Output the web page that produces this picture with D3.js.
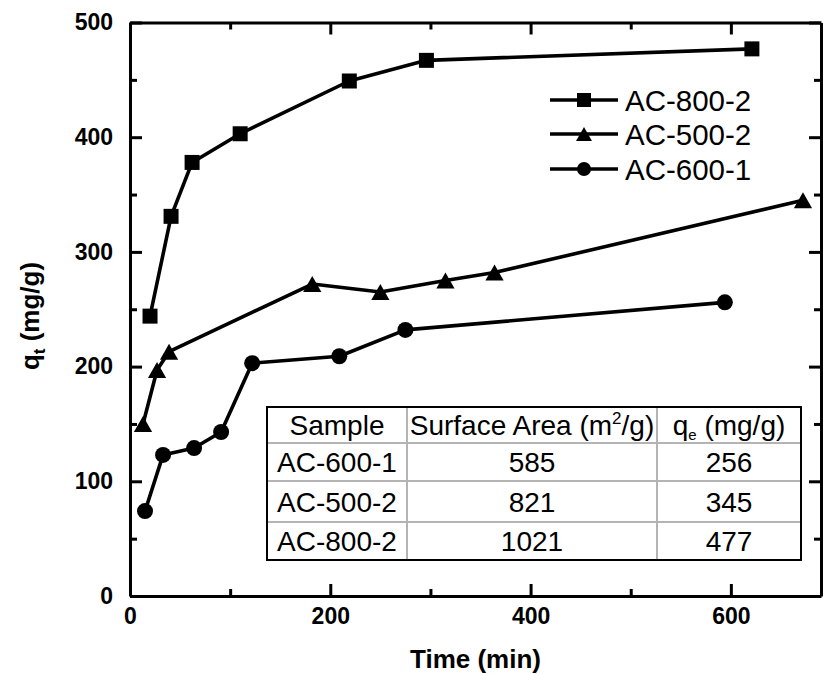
<!DOCTYPE html>
<html>
<head>
<meta charset="utf-8">
<script src="https://cdn.jsdelivr.net/npm/d3@7"></script>
<style>
  html, body { margin: 0; padding: 0; background: #fff; }
  svg { display: block; font-family: "Liberation Sans", Arial, sans-serif; }
</style>
</head>
<body>
<svg id="chart" width="823" height="675"></svg>
<script>
// Adsorption kinetics: uptake q_t versus contact time for three activated carbons
const seriesNames = ["AC-800-2", "AC-500-2", "AC-600-1"];
const seriesShapes = ["square", "triangle", "circle"];

const timeAC800 = [20, 41, 62, 110, 219, 296, 621];
const qtAC800   = [244, 331, 378, 403, 449, 467, 477];

const timeAC500 = [13, 27, 39, 182, 250, 315, 364, 672];
const qtAC500   = [150, 197, 213, 272, 265, 275, 282, 345];

const timeAC600 = [15, 33, 64, 91, 122, 209, 275, 594];
const qtAC600   = [74, 123, 129, 143, 203, 209, 232, 256];

// Summary table
const tableSamples = ["AC-600-1", "AC-500-2", "AC-800-2"];
const tableSurface = [585, 821, 1021];
const tableQe      = [256, 345, 477];

// Axis ticks
const xMajorTicks = [0, 200, 400, 600];
const xMinorTicks = [100, 300, 500];
const yMajorTicks = [0, 100, 200, 300, 400, 500];
const yMinorTicks = [50, 150, 250, 350, 450];

const svg = d3.select("#chart");
const plotLeft = 130, plotRight = 821, plotTop = 22.5, plotBottom = 596;

const x = d3.scaleLinear().domain([0, 690]).range([plotLeft, plotRight]);
const y = d3.scaleLinear().domain([0, 500]).range([plotBottom, plotTop]);

const AXIS_W = 3;
const MAJOR = 12, MINOR = 7;

function styleAxis(g) {
  g.selectAll("path.domain").attr("stroke", "#000").attr("stroke-width", AXIS_W);
  g.selectAll(".tick line").attr("stroke", "#000").attr("stroke-width", AXIS_W);
}

// Minor ticks (no labels)
function minorAxis(axisFn, scale, ticks, tr) {
  const g = svg.append("g").attr("transform", tr)
    .call(axisFn(scale).tickValues(ticks).tickSizeInner(-MINOR).tickSizeOuter(0).tickFormat(""));
  g.select("path.domain").remove();
  g.selectAll(".tick line").attr("stroke", "#000").attr("stroke-width", AXIS_W);
}
minorAxis(d3.axisBottom, x, xMinorTicks, `translate(0,${plotBottom})`);
minorAxis(d3.axisTop, x, xMinorTicks, `translate(0,${plotTop})`);
minorAxis(d3.axisLeft, y, yMinorTicks, `translate(${plotLeft},0)`);
minorAxis(d3.axisRight, y, yMinorTicks, `translate(${plotRight},0)`);

// Major axes forming the frame
const tickFont = g => g.selectAll(".tick text")
  .attr("fill", "#000").style("font-size", "23px").style("font-weight", "bold")
  .style("font-family", "'Liberation Sans', Arial, sans-serif");

const gx = svg.append("g").attr("transform", `translate(0,${plotBottom})`)
  .call(d3.axisBottom(x).tickValues(xMajorTicks).tickSizeInner(-MAJOR).tickSizeOuter(0))
  .call(styleAxis).call(tickFont);
gx.selectAll(".tick text").attr("y", 12).attr("dy", "0.71em");

const gy = svg.append("g").attr("transform", `translate(${plotLeft},0)`)
  .call(d3.axisLeft(y).tickValues(yMajorTicks).tickSizeInner(-MAJOR).tickSizeOuter(0))
  .call(styleAxis).call(tickFont);
gy.selectAll(".tick text").attr("x", -17);

svg.append("g").attr("transform", `translate(0,${plotTop})`)
  .call(d3.axisTop(x).tickValues(xMajorTicks).tickSizeInner(-MAJOR).tickSizeOuter(0).tickFormat(""))
  .call(styleAxis);
svg.append("g").attr("transform", `translate(${plotRight},0)`)
  .call(d3.axisRight(y).tickValues(yMajorTicks).tickSizeInner(-MAJOR).tickSizeOuter(0).tickFormat(""))
  .call(styleAxis);

// Axis titles
svg.append("text")
  .attr("x", (plotLeft + plotRight) / 2).attr("y", 668)
  .attr("text-anchor", "middle")
  .style("font-size", "26px").style("font-weight", "bold")
  .text("Time (min)");

const yTitle = svg.append("text")
  .attr("transform", "translate(39,316) rotate(-90)")
  .attr("text-anchor", "middle")
  .style("font-size", "26px").style("font-weight", "bold");
yTitle.append("tspan").text("q");
yTitle.append("tspan").attr("dy", 6).style("font-size", "17px").text("t");
yTitle.append("tspan").attr("dy", -6).text(" (mg/g)");

// Marker shapes
function markerPath(shape, s) {
  if (shape === "square") {
    const h = s / 2;
    return `M${-h},${-h}H${h}V${h}H${-h}Z`;
  }
  if (shape === "triangle") {
    const w = s * 0.57, hh = s * 0.5;
    return `M0,${-hh}L${w},${hh}L${-w},${hh}Z`;
  }
  const r = s / 2;
  return `M${r},0A${r},${r} 0 1,1 ${-r},0A${r},${r} 0 1,1 ${r},0Z`;
}

const series = [
  { name: seriesNames[0], shape: seriesShapes[0], t: timeAC800, q: qtAC800, size: 15 },
  { name: seriesNames[1], shape: seriesShapes[1], t: timeAC500, q: qtAC500, size: 16 },
  { name: seriesNames[2], shape: seriesShapes[2], t: timeAC600, q: qtAC600, size: 16 }
];

const line = d3.line().x(d => x(d[0])).y(d => y(d[1]));

series.forEach(s => {
  const pts = s.t.map((t, i) => [t, s.q[i]]);
  svg.append("path")
    .datum(pts)
    .attr("fill", "none").attr("stroke", "#000").attr("stroke-width", 3.6)
    .attr("stroke-linejoin", "round")
    .attr("d", line);
  svg.append("g").selectAll("path")
    .data(pts).join("path")
    .attr("transform", d => `translate(${x(d[0])},${y(d[1])})`)
    .attr("d", markerPath(s.shape, s.size))
    .attr("fill", "#000");
});

// Legend
const legendRows = [100, 134, 169];
const lg = svg.append("g");
series.forEach((s, i) => {
  const yy = legendRows[i];
  lg.append("line").attr("x1", 550).attr("x2", 618).attr("y1", yy).attr("y2", yy)
    .attr("stroke", "#000").attr("stroke-width", 3.6);
  lg.append("path").attr("transform", `translate(584,${yy})`)
    .attr("d", markerPath(s.shape, 14)).attr("fill", "#000");
  lg.append("text").attr("x", 625).attr("y", yy).attr("dy", "0.36em")
    .style("font-size", "29.5px").text(s.name);
});

// Summary table
const colEdges = [267, 407, 657, 801];
const rowEdges = [407, 443, 481, 522, 560];
const tg = svg.append("g");
tg.append("rect").attr("x", colEdges[0]).attr("y", rowEdges[0])
  .attr("width", colEdges[3] - colEdges[0]).attr("height", rowEdges[4] - rowEdges[0])
  .attr("fill", "#fff");
colEdges.slice(1, 3).forEach(cx => tg.append("line")
  .attr("x1", cx).attr("x2", cx).attr("y1", rowEdges[0]).attr("y2", rowEdges[4])
  .attr("stroke", "#b4b4b4").attr("stroke-width", 2));
rowEdges.slice(1, 4).forEach(ry => tg.append("line")
  .attr("x1", colEdges[0]).attr("x2", colEdges[3]).attr("y1", ry).attr("y2", ry)
  .attr("stroke", "#b4b4b4").attr("stroke-width", 2));
tg.append("rect").attr("x", colEdges[0]).attr("y", rowEdges[0])
  .attr("width", colEdges[3] - colEdges[0]).attr("height", rowEdges[4] - rowEdges[0])
  .attr("fill", "none").attr("stroke", "#000").attr("stroke-width", 2);

const colCenter = i => (colEdges[i] + colEdges[i + 1]) / 2;
const rowCenter = j => (rowEdges[j] + rowEdges[j + 1]) / 2;
function cell(i, j) {
  return tg.append("text").attr("x", colCenter(i)).attr("y", rowCenter(j)).attr("dy", "0.36em")
    .attr("text-anchor", "middle").style("font-size", "28px");
}
cell(0, 0).text("Sample");
const h2 = cell(1, 0);
h2.append("tspan").text("Surface Area (m");
h2.append("tspan").attr("dy", -11).style("font-size", "17px").text("2");
h2.append("tspan").attr("dy", 11).text("/g)");
const h3 = cell(2, 0);
h3.append("tspan").text("q");
h3.append("tspan").attr("dy", 5).style("font-size", "15px").text("e");
h3.append("tspan").attr("dy", -5).text(" (mg/g)");
tableSamples.forEach((name, j) => {
  cell(0, j + 1).text(name);
  cell(1, j + 1).text(tableSurface[j]);
  cell(2, j + 1).text(tableQe[j]);
});
</script>
</body>
</html>
